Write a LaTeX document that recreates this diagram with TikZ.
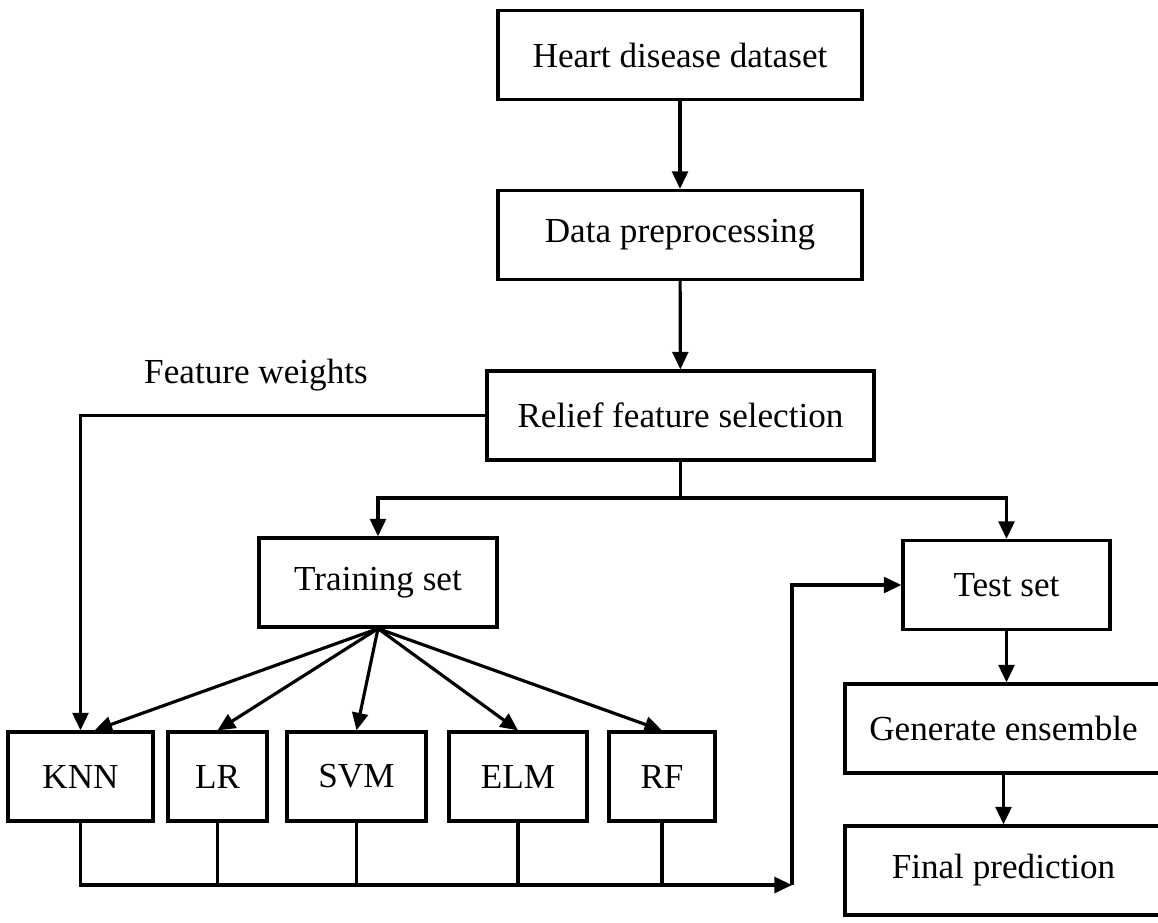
\documentclass[tikz,border=0pt]{standalone}
\usepackage{fontspec}
\setmainfont{Liberation Serif}
\usetikzlibrary{arrows.meta}

\begin{document}
\begin{tikzpicture}[line width=1.8pt, >={Triangle[length=10pt,width=9pt]}]
				\tikzstyle{every node}=[font=\fontsize{20}{24}\selectfont, align=center]
				\tikzstyle{block}=[draw, line width=1.8pt, minimum height=1.78cm]
				\useasboundingbox (0,0) rectangle (23.16,-18.44);
				\node[block, minimum width=7.28cm] (heart) at (13.6, -1.1) {Heart disease dataset};
				\node[block, minimum width=7.28cm] (prep) at (13.6, -4.7) {Data preprocessing};
				\node[block, minimum width=7.74cm] (relief) at (13.61, -8.31) {Relief feature selection};
				\node (fw) at (5.12, -7.5) {Feature weights};
				\node[block, minimum width=4.76cm] (train) at (7.56, -11.65) {Training set};
				\node[block, minimum width=4.14cm] (test) at (20.13, -11.7) {Test set};
				\node[block, minimum width=6.34cm] (gen) at (20.07, -14.57) {Generate ensemble};
				\node[block, minimum width=6.34cm] (final) at (20.07, -17.41) {Final prediction};
				\node[block, minimum width=2.9cm] (knn) at (1.61, -15.53) {KNN};
				\node[block, minimum width=1.98cm] (lr) at (4.35, -15.53) {LR};
				\node[block, minimum width=2.78cm] (svm) at (7.13, -15.53) {SVM};
				\node[block, minimum width=2.76cm] (elm) at (10.36, -15.53) {ELM};
				\node[block, minimum width=2.12cm] (rf) at (13.24, -15.53) {RF};
				\coordinate (split) at (13.61, -9.96);
				\coordinate (join) at (15.84, -17.7);
				\draw [->] (heart) -- (prep);
				\draw [->] (prep) -- (relief);
				\draw (relief.south) -- (split);
				\draw [->] (split) -| (train.north);
				\draw [->] (split) -| (test.north);
				\draw [->] (relief.west) -| (knn.north);
				\draw [->] (train.south) -- ([xshift=0.28cm]knn.north);
				\foreach \m in {lr, svm, elm, rf}
					\draw [->] (train.south) -- (\m.north);
				\draw [->] (knn.south) |- (join);
				\foreach \m in {lr, svm, elm, rf}
					\draw (\m.south) -- (\m.south |- join);
				\draw [->] (join) |- (test.west);
				\draw [->] (test.south) -- (test.south |- gen.north);
				\draw [->] (gen.south) -- (final.north);
		\end{tikzpicture}
\end{document}
